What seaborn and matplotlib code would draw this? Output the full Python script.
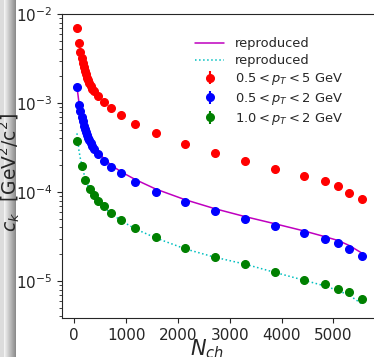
import numpy as np
import pandas as pd
import matplotlib
matplotlib.use("Agg")
import matplotlib.pyplot as plt
import seaborn as sns

# multiplicity bins (shared by the 0.5-5 and 0.5-2 GeV series and the fit curves)
nch = [52, 91, 116, 143, 162, 181, 200, 219, 239, 264, 289, 316, 341, 381,
       463, 579, 714, 907, 1178, 1571, 2137, 2710, 3290, 3869, 4434, 4834,
       5091, 5309, 5554]
ck_05_5 = [7.0e-3, 4.69e-3, 3.77e-3, 3.18e-3, 2.80e-3, 2.52e-3, 2.30e-3,
           2.10e-3, 1.93e-3, 1.79e-3, 1.66e-3, 1.54e-3, 1.45e-3, 1.38e-3,
           1.20e-3, 1.02e-3, 8.7e-4, 7.28e-4, 5.86e-4, 4.65e-4, 3.46e-4,
           2.74e-4, 2.23e-4, 1.83e-4, 1.52e-4, 1.32e-4, 1.16e-4, 9.75e-5, 8.41e-5]
ck_05_2 = [1.52e-3, 9.5e-4, 8.1e-4, 7.0e-4, 6.28e-4, 5.56e-4, 5.06e-4,
           4.69e-4, 4.37e-4, 4.07e-4, 3.81e-4, 3.52e-4, 3.31e-4, 3.04e-4,
           2.67e-4, 2.25e-4, 1.92e-4, 1.62e-4, 1.31e-4, 1.01e-4, 7.72e-5,
           6.07e-5, 4.93e-5, 4.12e-5, 3.46e-5, 2.99e-5, 2.69e-5, 2.31e-5, 1.91e-5]

# 1.0-2 GeV has fewer bins
nch_10_2 = [52, 154, 212, 297, 375, 463, 579, 714, 907, 1178, 1571, 2137,
            2710, 3290, 3869, 4434, 4834, 5091, 5309, 5554]
ck_10_2 = [3.74e-4, 1.98e-4, 1.36e-4, 1.08e-4, 9.25e-5, 7.98e-5, 6.96e-5,
           5.85e-5, 4.84e-5, 3.97e-5, 3.15e-5, 2.35e-5, 1.85e-5, 1.55e-5,
           1.26e-5, 1.03e-5, 9.25e-6, 8.12e-6, 7.58e-6, 6.23e-6]

# reproduced curves
repro_05_2 = [1.52e-3, 1.0e-3, 8.4e-4, 7.2e-4, 6.5e-4, 5.9e-4, 5.4e-4, 5.0e-4,
              4.65e-4, 4.3e-4, 4.0e-4, 3.75e-4, 3.55e-4, 3.25e-4, 2.8e-4,
              2.35e-4, 2.0e-4, 1.68e-4, 1.38e-4, 1.08e-4, 8.2e-5, 6.5e-5,
              5.3e-5, 4.4e-5, 3.65e-5, 3.15e-5, 2.85e-5, 2.5e-5, 2.05e-5]
repro_10_2 = [4.56e-4, 2.9e-4, 2.4e-4, 2.05e-4, 1.85e-4, 1.65e-4, 1.5e-4,
              1.38e-4, 1.28e-4, 1.18e-4, 1.1e-4, 1.02e-4, 9.6e-5, 8.8e-5,
              7.7e-5, 6.7e-5, 5.7e-5, 4.75e-5, 3.85e-5, 3.05e-5, 2.3e-5,
              1.85e-5, 1.55e-5, 1.25e-5, 1.02e-5, 8.8e-6, 7.8e-6, 6.9e-6, 5.5e-6]

rel_err = 0.03

sns.set_style("ticks")
plt.rcParams["font.family"] = ["DejaVu Sans"]

W, H = 374, 357
fig = plt.figure(figsize=(W / 100, H / 100), dpi=100)

# grey gradient strip on the left edge
strip = fig.add_axes([0, 0, 16 / W, 1])
grad = np.concatenate([np.full(4, 0.86), np.linspace(0.95, 0.55, 12)])
strip.imshow(np.tile(grad, (2, 1)), aspect="auto", cmap="gray", vmin=0, vmax=1,
             extent=[0, 1, 0, 1])
strip.axis("off")

ax = fig.add_axes([62 / W, (H - 318) / H, (378 - 62) / W, (318 - 14) / H])

curves = pd.DataFrame({"nch": nch, "a": repro_05_2, "b": repro_10_2})
sns.lineplot(data=curves, x="nch", y="a", ax=ax, color="m", lw=1.1,
             label="reproduced")
sns.lineplot(data=curves, x="nch", y="b", ax=ax, color="c", lw=1.1,
             linestyle=":", label="reproduced")

series = [
    (nch, ck_05_5, "r", r"$0.5 < p_T < 5$ GeV"),
    (nch, ck_05_2, "b", r"$0.5 < p_T < 2$ GeV"),
    (nch_10_2, ck_10_2, "g", r"$1.0 < p_T < 2$ GeV"),
]
for x, y, c, lab in series:
    y = np.array(y)
    ax.errorbar(x, y, yerr=rel_err * y, fmt="o", color=c, ms=5.5, label=lab)

ax.set_yscale("log")
ax.set_ylim(3.84e-6, 1e-2)
ax.set_xlim(-237, 5860)
ax.set_xticks([0, 1000, 2000, 3000, 4000, 5000])
ax.tick_params(labelsize=11)
ax.set_xlabel(r"$N_{ch}$", fontsize=15)
ax.set_ylabel(r"$c_k$  [GeV$^2$/c$^2$]", fontsize=13.5)
ax.xaxis.set_label_coords(0.46, -0.065)
ax.yaxis.set_label_coords(-0.128, 0.48)
ax.spines["right"].set_visible(False)

ax.legend(frameon=False, fontsize=9.4, loc="upper right",
          bbox_to_anchor=(0.925, 0.962), handlelength=2.2, labelspacing=0.3)

fig.savefig("out.png", dpi=100)
